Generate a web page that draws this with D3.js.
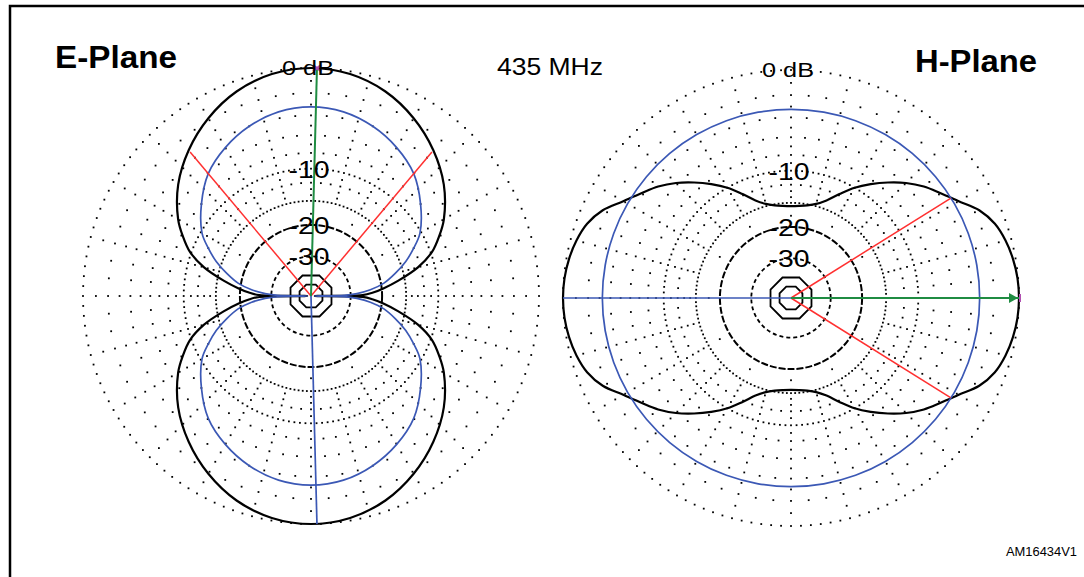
<!DOCTYPE html>
<html>
<head>
<meta charset="utf-8">
<script src="https://cdn.jsdelivr.net/npm/d3@7/dist/d3.min.js"></script>
<style>
  body { margin: 0; background: #fff; }
  svg { display: block; }
  text { font-family: "Liberation Sans", Arial, sans-serif; }
</style>
</head>
<body>
<svg id="chart" width="1084" height="577"></svg>
<script>
// azimuth in degrees, clockwise from the top of each plot; values in dB
const eAngles = [0,10,20,30,40,50,60,65,70,75,80,84,87,89,90,91,93,96,100,105,110,115,120,130,140,150,160,170,
  180,190,200,210,220,230,240,245,250,255,260,264,267,269,270,271,273,276,280,285,290,295,300,310,320,330,340,350];
const eTotal = [0,-0.2,-0.8,-1.8,-3.1,-4.7,-6.8,-8.2,-9.8,-12.4,-16.2,-19.6,-22.5,-25.5,-70,-25.5,-22.5,-19.6,-16.2,-12.4,-9.8,-8.2,-6.8,-4.7,-3.1,-1.8,-0.8,-0.2,
  0,-0.2,-0.8,-1.8,-3.1,-4.7,-6.8,-8.2,-9.8,-12.4,-16.2,-19.6,-22.5,-25.5,-70,-25.5,-22.5,-19.6,-16.2,-12.4,-9.8,-8.2,-6.8,-4.7,-3.1,-1.8,-0.8,-0.2];
const eRef = [-3.2,-3.4,-4.0,-4.9,-6.1,-8.0,-10.2,-12.0,-14.0,-16.5,-19.3,-23.0,-27.5,-33,-70,-33,-27.5,-23.0,-19.3,-16.5,-14.0,-12.0,-10.2,-8.0,-6.1,-4.9,-4.0,-3.4,
  -3.2,-3.4,-4.0,-4.9,-6.1,-8.0,-10.2,-12.0,-14.0,-16.5,-19.3,-23.0,-27.5,-33,-70,-33,-27.5,-23.0,-19.3,-16.5,-14.0,-12.0,-10.2,-8.0,-6.1,-4.9,-4.0,-3.4];

const hAngles = [0,5,10,15,20,25,30,35,40,45,50,55,60,65,70,75,80,85,90,95,100,105,110,115,120,125,130,135,140,145,150,155,160,165,170,175,
  180,185,190,195,200,205,210,215,220,225,230,235,240,245,250,255,260,265,270,275,280,285,290,295,300,305,310,315,320,325,330,335,340,345,350,355];
const hTotal = [-15.6,-15.5,-15.2,-14.6,-13.5,-11.8,-10.0,-8.5,-7.1,-5.8,-4.7,-3.8,-2.8,-1.6,-0.85,-0.45,-0.2,-0.05,0,-0.05,-0.2,-0.45,-0.85,-1.6,-2.8,-3.8,-4.7,-5.8,-7.1,-8.5,-10.0,-11.8,-13.5,-14.6,-15.2,-15.5,
  -15.6,-15.5,-15.2,-14.6,-13.5,-11.8,-10.0,-8.5,-7.1,-5.8,-4.7,-3.8,-2.8,-1.6,-0.85,-0.45,-0.2,-0.05,0,-0.05,-0.2,-0.45,-0.85,-1.6,-2.8,-3.8,-4.7,-5.8,-7.1,-8.5,-10.0,-11.8,-13.5,-14.6,-15.2,-15.5];
const hRefAngles = [0,10,20,30,40,50,60,70,80,90,100,110,120,130,140,150,160,170,180,190,200,210,220,230,240,250,260,270,280,290,300,310,320,330,340,350];
const hRef = [-3.25,-3.25,-3.25,-3.25,-3.25,-3.25,-3.25,-3.25,-3.25,-3.25,-3.25,-3.25,-3.25,-3.25,-3.25,-3.25,-3.25,-3.25,
  -3.25,-3.25,-3.25,-3.25,-3.25,-3.25,-3.25,-3.25,-3.25,-3.25,-3.25,-3.25,-3.25,-3.25,-3.25,-3.25,-3.25,-3.25];

// grid levels and labels
const dotRings = [0, -10, -15];
const dashRings = [-20, -30];
const coreRings = [-40, -50];
const labelLevels = [-10, -20, -30];
const labelTexts = ["-10", "-20", "-30"];

// cursor lines: [azimuth, level]
const eMax = [1.5, 0], eBack = [178.5, 0], eBeam = [[-40, -3.3], [40, -3.3]];
const hMax = [90, 0], hBack = [270, 0], hBeam = [[58, -3.3], [122, -3.3]];

const R = 228;
const amp = d3.scaleLinear().domain([0, 1]).range([0, R]);
// ARRL log-periodic radial scale
const rad = db => amp(Math.pow(0.89, -db / 2));
const toRad = d3.scaleLinear().domain([0, 360]).range([0, 2 * Math.PI]);

const svg = d3.select("#chart");

svg.append("rect")
  .attr("x", 10).attr("y", 6).attr("width", 1100).attr("height", 600)
  .attr("fill", "none").attr("stroke", "#000").attr("stroke-width", 2.5);

const pt = (az, db) => {
  const r = rad(db), a = toRad(az);
  return [r * Math.sin(a), -r * Math.cos(a)];
};

function drawPlot(cx, cy, angles, total, refAngles, ref, maxC, backC, beam, arrow) {
  const g = svg.append("g").attr("transform", "translate(" + cx + "," + cy + ")");

  // dotted grid
  const dots = [];
  dotRings.forEach(lv => d3.range(0, 360, 2.5).forEach(a => dots.push(pt(a, lv))));
  d3.range(0, 360, 15).forEach(a => {
    d3.range(-1, -15, -1).forEach(lv => { if (lv !== -10) dots.push(pt(a, lv)); });
  });
  d3.range(0, 360, 5).filter(a => a % 15 !== 0).forEach(a => {
    [-2, -4, -6, -8, -12].forEach(lv => dots.push(pt(a, lv)));
  });
  d3.range(0, 360, 30).forEach(a => [-17.5].forEach(lv => dots.push(pt(a, lv))));
  g.selectAll(".dot").data(dots).enter().append("rect")
    .attr("x", d => d[0] - 0.9).attr("y", d => d[1] - 0.9)
    .attr("width", 1.8).attr("height", 1.8).attr("fill", "#000");

  g.selectAll(".dring").data(dashRings).enter().append("circle")
    .attr("r", d => rad(d)).attr("fill", "none").attr("stroke", "#000")
    .attr("stroke-width", (d, i) => i === 0 ? 2 : 1.8)
    .attr("stroke-dasharray", (d, i) => i === 0 ? "7,2" : "4,3");
  g.selectAll(".cring").data(coreRings).enter().append("path")
    .attr("d", d => d3.line().curve(d3.curveLinearClosed)(d3.range(22.5, 360, 45).map(a => pt(a, d))))
    .attr("fill", "none").attr("stroke", "#000").attr("stroke-width", 1.8);

  const line = d3.lineRadial()
    .angle(d => toRad(d[0])).radius(d => rad(d[1]))
    .curve(d3.curveCatmullRomClosed.alpha(0.5));

  g.append("path").attr("d", line(angles.map((a, i) => [a, total[i]])))
    .attr("fill", "none").attr("stroke", "#000").attr("stroke-width", 2.2);
  g.append("path").attr("d", line(refAngles.map((a, i) => [a, ref[i]])))
    .attr("fill", "none").attr("stroke", "#3b58b5").attr("stroke-width", 1.7);

  beam.forEach(b => {
    const p = pt(b[0], b[1]);
    g.append("line").attr("x1", 0).attr("y1", 0).attr("x2", p[0]).attr("y2", p[1])
      .attr("stroke", "#ff3030").attr("stroke-width", 1.5);
  });
  const pb = pt(backC[0], backC[1]);
  g.append("line").attr("x1", 0).attr("y1", 0).attr("x2", pb[0]).attr("y2", pb[1])
    .attr("stroke", "#3b58b5").attr("stroke-width", 1.7);
  const pm = pt(maxC[0], maxC[1]);
  g.append("line").attr("x1", 0).attr("y1", 0).attr("x2", pm[0]).attr("y2", pm[1])
    .attr("stroke", "#1f8c42").attr("stroke-width", 2);

  if (arrow) {
    g.append("path")
      .attr("d", "M" + (pm[0] - 1) + "," + pm[1] + "l-9,-5v10z").attr("fill", "#1f8c42");
    g.append("line").attr("x1", pm[0] + 1).attr("y1", pm[1] - 4).attr("x2", pm[0] + 1).attr("y2", pm[1] + 4)
      .attr("stroke", "#b050b0").attr("stroke-width", 2);
  } else {
    g.append("path")
      .attr("d", "M" + (pm[0] - 4) + "," + (pm[1] - 3) + "l8,6M" + (pm[0] + 4) + "," + (pm[1] - 3) + "l-8,6")
      .attr("stroke", "#b050b0").attr("stroke-width", 2.2);
  }

  g.selectAll(".lab").data(labelLevels).enter().append("text")
    .attr("x", -2).attr("y", d => -rad(d) + 9)
    .attr("text-anchor", "middle").attr("font-size", 23)
    .attr("textLength", 41).attr("lengthAdjust", "spacingAndGlyphs")
    .text((d, i) => labelTexts[i]);
  g.append("text").attr("x", -3).attr("y", -rad(0) + 7)
    .attr("text-anchor", "middle").attr("font-size", 21)
    .attr("textLength", 52).attr("lengthAdjust", "spacingAndGlyphs")
    .text("0 dB");
}

drawPlot(311, 296, eAngles, eTotal, eAngles, eRef, eMax, eBack, eBeam, false);
drawPlot(791, 298, hAngles, hTotal, hRefAngles, hRef, hMax, hBack, hBeam, true);

svg.append("text").attr("x", 55).attr("y", 68).attr("font-size", 32).attr("font-weight", "bold")
  .attr("textLength", 122).attr("lengthAdjust", "spacingAndGlyphs").text("E-Plane");
svg.append("text").attr("x", 915).attr("y", 72).attr("font-size", 32).attr("font-weight", "bold")
  .attr("textLength", 122).attr("lengthAdjust", "spacingAndGlyphs").text("H-Plane");
svg.append("text").attr("x", 497).attr("y", 75).attr("font-size", 24)
  .attr("textLength", 106).attr("lengthAdjust", "spacingAndGlyphs").text("435 MHz");
svg.append("text").attr("x", 1077).attr("y", 556).attr("font-size", 13).attr("text-anchor", "end")
  .attr("textLength", 71).attr("lengthAdjust", "spacingAndGlyphs").text("AM16434V1");
</script>
</body>
</html>
